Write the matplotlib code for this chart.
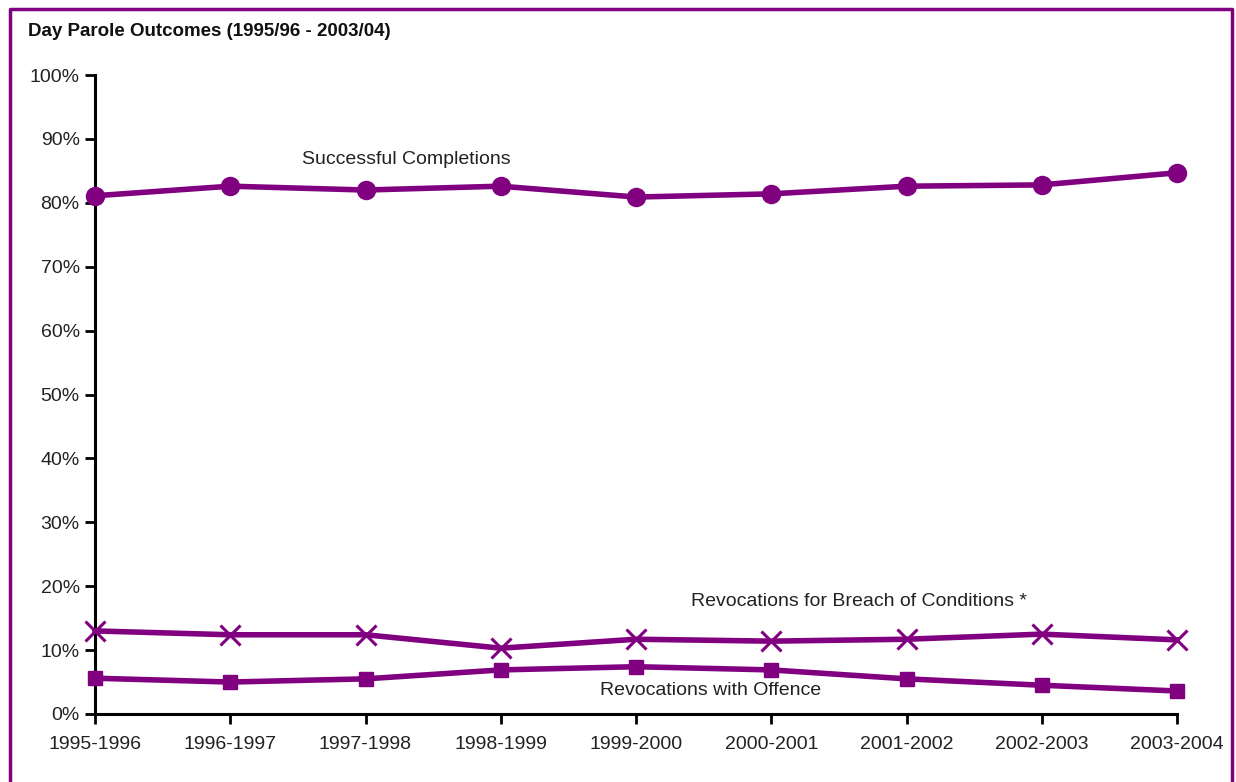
import matplotlib.pyplot as plt
from matplotlib.lines import Line2D
from matplotlib.ticker import FuncFormatter

plt.rcParams["font.family"] = ["Liberation Sans Narrow", "Liberation Sans", "DejaVu Sans"]

years = ["1995-1996", "1996-1997", "1997-1998", "1998-1999", "1999-2000",
         "2000-2001", "2001-2002", "2002-2003", "2003-2004"]
successful = [81.1, 82.6, 82.0, 82.6, 80.9, 81.4, 82.6, 82.8, 84.7]
breach = [13.0, 12.4, 12.4, 10.3, 11.7, 11.4, 11.7, 12.5, 11.6]
offence = [5.6, 5.0, 5.5, 6.9, 7.4, 6.9, 5.5, 4.5, 3.6]

PURPLE = "#800080"
W, H = 1236, 782

fig = plt.figure(figsize=(W / 100, H / 100), dpi=100)
ax = fig.add_axes([95 / W, (H - 714) / H, (1177 - 95) / W, (714 - 75) / H])

x = range(len(years))
ax.plot(x, successful, color=PURPLE, lw=4, marker="o", ms=13, clip_on=False, zorder=3)
ax.plot(x, breach, color=PURPLE, lw=4, marker="x", ms=15, mew=2.2, clip_on=False, zorder=3)
ax.plot(x, offence, color=PURPLE, lw=4, marker="s", ms=10, clip_on=False, zorder=3)

ax.set_xlim(0, len(years) - 1)
ax.set_ylim(0, 100)
ax.set_yticks(range(0, 101, 10))
ax.yaxis.set_major_formatter(FuncFormatter(lambda v, p: f"{v:.0f}%"))
ax.set_xticks(list(x))
ax.set_xticklabels(years)

for side in ("top", "right"):
    ax.spines[side].set_visible(False)
for side in ("left", "bottom"):
    ax.spines[side].set_linewidth(2.2)
    ax.spines[side].set_color("black")
ax.tick_params(axis="both", direction="out", length=7, width=2, colors="black",
               labelsize=14, labelcolor="#222222")
ax.tick_params(axis="x", pad=9)
ax.tick_params(axis="y", pad=4)

ax.text(2.3, 86.8, "Successful Completions", ha="center", va="center", fontsize=14, color="#222222")
ax.text(5.65, 17.6, "Revocations for Breach of Conditions *", ha="center", va="center",
        fontsize=14, color="#222222")
ax.text(4.55, 3.7, "Revocations with Offence", ha="center", va="center", fontsize=14, color="#222222")

fig.text(28 / W, 1 - 31 / H, "Day Parole Outcomes (1995/96 - 2003/04)", ha="left", va="center",
         fontsize=13.5, fontweight="bold", color="#111111")

# purple frame around the chart (open at the bottom edge)
fx0, fx1, fy0 = 9.5 / W, 1232 / W, 1 - 8.5 / H
frame = Line2D([fx0, fx0, fx1, fx1], [-0.01, fy0, fy0, -0.01], transform=fig.transFigure,
               color=PURPLE, lw=2.5)
fig.add_artist(frame)

fig.savefig("out.png", dpi=100)
